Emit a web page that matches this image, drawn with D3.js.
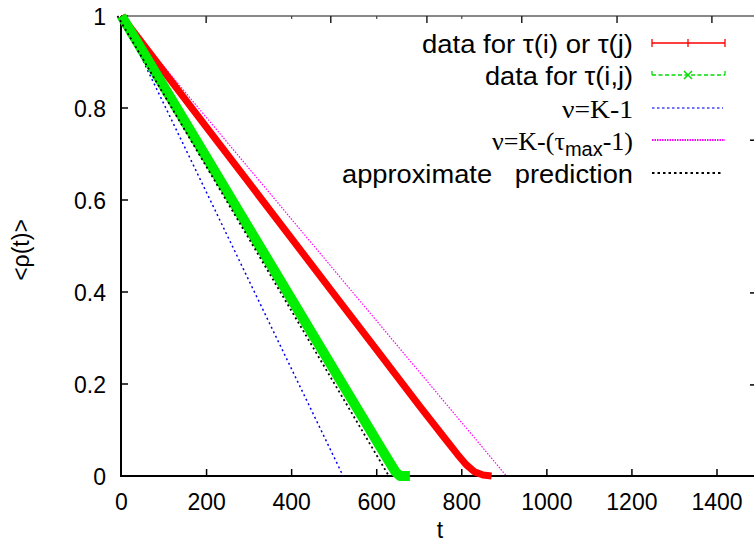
<!DOCTYPE html>
<html><head><meta charset="utf-8">
<script src="https://cdn.jsdelivr.net/npm/d3@7"></script>
<style>body{margin:0;background:#fff;}svg{display:block;}</style>
</head><body>
<svg id="c" width="754" height="552"></svg>
<script>
// ---- data ----
const xTicks = [0,200,400,600,800,1000,1200,1400];
const yTicks = [0,0.2,0.4,0.6,0.8,1];
const yTickLabels = ["0","0.2","0.4","0.6","0.8","1"];
const topMajorTicks = [199,492,718,941,1165,1388];
const rightMarks = [0.73,0.398,0.198];

const redT   = [0,100,200,300,400,500,600,700,760,790,810,830,850,870];
const redV   = [1,0.879,0.758,0.637,0.516,0.395,0.274,0.153,0.082,0.047,0.025,0.009,0.002,0.0];
const greenT = [0,100,200,300,400,500,600,630,645,655,678];
const greenV = [1,0.846,0.692,0.538,0.384,0.23,0.076,0.03,0.008,0.0,0.0];
const blueT  = [0,521];   const blueV  = [1,0];
const magT   = [0,905];   const magV   = [1,0];
const blackT = [0,638];   const blackV = [1,0];

const svg = d3.select("#c");
const x = d3.scaleLinear().domain([0,1400]).range([121.5,717]);
const y = d3.scaleLinear().domain([0,1]).range([476,16]);
const sans = "'Liberation Sans', Arial, Helvetica, sans-serif";
const serif = "'Liberation Serif', 'Times New Roman', serif";

// top border and its ticks
svg.append("line").attr("x1",121).attr("x2",754).attr("y1",16).attr("y2",16)
  .attr("stroke","#888").attr("stroke-width",2);
svg.selectAll(".tt").data(topMajorTicks).enter().append("line")
  .attr("x1",d=>x(d)).attr("x2",d=>x(d)).attr("y1",16).attr("y2",23)
  .attr("stroke","#222").attr("stroke-width",1.5);
svg.selectAll(".tm").data(xTicks.slice(1,5)).enter().append("line")
  .attr("x1",d=>x(d)).attr("x2",d=>x(d)).attr("y1",16).attr("y2",19)
  .attr("stroke","#444").attr("stroke-width",1.2);
svg.selectAll(".rm").data(rightMarks).enter().append("line")
  .attr("x1",750).attr("x2",755).attr("y1",d=>y(d)).attr("y2",d=>y(d))
  .attr("stroke","#000").attr("stroke-width",1.5);

// axes lines
svg.append("line").attr("x1",121).attr("x2",754).attr("y1",476).attr("y2",476)
  .attr("stroke","#000").attr("stroke-width",2);
svg.append("line").attr("x1",121).attr("x2",121).attr("y1",16).attr("y2",477)
  .attr("stroke","#000").attr("stroke-width",2);

// x ticks
svg.selectAll(".xt").data(xTicks.slice(1)).enter().append("line")
  .attr("x1",d=>x(d)).attr("x2",d=>x(d)).attr("y1",476).attr("y2",469)
  .attr("stroke","#000").attr("stroke-width",1.5);
svg.selectAll(".xl").data(xTicks).enter().append("text")
  .attr("x",d=>x(d)).attr("y",510).attr("text-anchor","middle")
  .attr("font-family",sans).attr("font-size",23).text(d=>d);
// y ticks
svg.selectAll(".yt").data(yTicks.slice(1)).enter().append("line")
  .attr("x1",121).attr("x2",128).attr("y1",d=>y(d)).attr("y2",d=>y(d))
  .attr("stroke","#000").attr("stroke-width",1.5);
svg.selectAll(".yl").data(yTicks).enter().append("text")
  .attr("x",106).attr("y",d=>y(d)+8.5).attr("text-anchor","end")
  .attr("font-family",sans).attr("font-size",23).text((d,i)=>yTickLabels[i]);

// axis labels
svg.append("text").attr("x",440).attr("y",538).attr("text-anchor","middle")
  .attr("font-family",sans).attr("font-size",23).text("t");
svg.append("text").attr("transform","translate(29,250) rotate(-90)").attr("text-anchor","middle")
  .attr("font-family",sans).attr("font-size",23).text("<ρ(t)>");

const line = d3.line().x(d=>x(d[0])).y(d=>y(d[1]));
const zip = (a,b)=>a.map((v,i)=>[v,b[i]]);

// series
svg.append("path").datum(zip(blueT,blueV)).attr("d",line).attr("fill","none")
  .attr("stroke","#0000ee").attr("stroke-width",1.5).attr("stroke-dasharray","2,3");
svg.append("path").datum(zip(magT,magV)).attr("d",line).attr("fill","none")
  .attr("stroke","#ff00ff").attr("stroke-width",1.2).attr("stroke-dasharray","1.5,1.5");
svg.append("path").datum(zip(redT,redV)).attr("d",line).attr("fill","none")
  .attr("stroke","#ff0000").attr("stroke-width",7).attr("stroke-linejoin","round");
svg.append("path").datum(zip(greenT,greenV)).attr("d",line).attr("fill","none")
  .attr("stroke","#00ee00").attr("stroke-width",10).attr("stroke-linejoin","round");
svg.append("path").datum(zip(blackT,blackV)).attr("d",d3.line().x(d=>x(d[0])-4).y(d=>y(d[1])))
  .attr("fill","none").attr("stroke","#000").attr("stroke-width",1.8).attr("stroke-dasharray","2,3");

// legend
const lx1 = 652, lx2 = 725, lxm = 688, tx = 633;
const rows = [43,75,108,140,173];
function ltext(i, str, font, len){
  const t = svg.append("text").attr("x",tx).attr("y",rows[i]+10).attr("text-anchor","end")
    .attr("font-family",font).attr("font-size",26);
  if(len) t.attr("textLength",len).attr("lengthAdjust","spacingAndGlyphs");
  t.text(str); return t;
}
ltext(0,"data for τ(i) or τ(j)",sans,211);
ltext(1,"data for τ(i,j)",sans,148);
ltext(2,"ν=K-1",serif,71);
{
  const t = svg.append("text").attr("x",tx).attr("y",rows[3]+10).attr("text-anchor","end")
    .attr("font-family",serif).attr("font-size",26);
  t.append("tspan").text("ν=K-(τ");
  t.append("tspan").attr("font-family",sans).attr("font-size",20).attr("dy",6).text("max");
  t.append("tspan").attr("dy",-6).text("-1)");
}
ltext(4,"approximate\u00A0\u00A0 prediction",sans,291);

// legend samples
svg.append("line").attr("x1",lx1).attr("x2",lx2).attr("y1",rows[0]).attr("y2",rows[0])
  .attr("stroke","#ff0000").attr("stroke-width",1.5);
[lx1,lxm,lx2].forEach(v=>svg.append("line").attr("x1",v).attr("x2",v)
  .attr("y1",rows[0]-4).attr("y2",rows[0]+4).attr("stroke","#ff0000").attr("stroke-width",1.3));
svg.append("line").attr("x1",lx1).attr("x2",lx2).attr("y1",rows[1]).attr("y2",rows[1])
  .attr("stroke","#00dd00").attr("stroke-width",1.3).attr("stroke-dasharray","4,2.5");
[lx1,lx2].forEach(v=>svg.append("line").attr("x1",v).attr("x2",v)
  .attr("y1",rows[1]-4).attr("y2",rows[1]).attr("stroke","#00dd00").attr("stroke-width",1.3));
svg.append("path").attr("d",`M${lxm-4},${rows[1]-4}L${lxm+4},${rows[1]+4}M${lxm-4},${rows[1]+4}L${lxm+4},${rows[1]-4}`)
  .attr("stroke","#00dd00").attr("stroke-width",1.5);
svg.append("line").attr("x1",lx1).attr("x2",723).attr("y1",rows[2]).attr("y2",rows[2])
  .attr("stroke","#4444ff").attr("stroke-width",1.5).attr("stroke-dasharray","2.5,2.5");
svg.append("line").attr("x1",lx1).attr("x2",lx2).attr("y1",rows[3]).attr("y2",rows[3])
  .attr("stroke","#ff00ff").attr("stroke-width",1.8).attr("stroke-dasharray","1.5,1");
svg.append("line").attr("x1",lx1).attr("x2",722).attr("y1",rows[4]).attr("y2",rows[4])
  .attr("stroke","#000").attr("stroke-width",1.8).attr("stroke-dasharray","2.5,3");
</script>
</body></html>
